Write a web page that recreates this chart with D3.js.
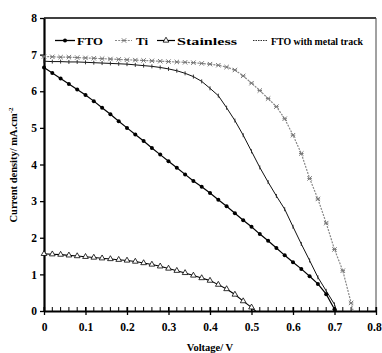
<!DOCTYPE html>
<html><head><meta charset="utf-8">
<script src="https://cdn.jsdelivr.net/npm/d3@7"></script>
<style>html,body{margin:0;padding:0;background:#fff;}svg{display:block;}</style>
</head><body>
<svg id="chart" width="382" height="353"></svg>
<script>
const xTicks = [0,0.1,0.2,0.3,0.4,0.5,0.6,0.7,0.8];
const xTickLabels = ["0","0.1","0.2","0.3","0.4","0.5","0.6","0.7","0.8"];
const yTicks = [0,1,2,3,4,5,6,7,8];
const seriesNames = ["FTO","Ti","Stainless","FTO with metal track"];

const vFTO = [0,0.02,0.04,0.06,0.08,0.10,0.12,0.14,0.16,0.18,0.20,0.22,0.24,0.26,0.28,0.30,0.32,0.34,0.36,0.38,0.40,0.42,0.44,0.46,0.48,0.50,0.52,0.54,0.56,0.58,0.60,0.62,0.64,0.66,0.68,0.70];
const jFTO = [6.65,6.50,6.35,6.20,6.05,5.90,5.73,5.55,5.37,5.18,5.00,4.82,4.64,4.45,4.27,4.09,3.91,3.73,3.55,3.39,3.22,3.04,2.86,2.67,2.48,2.30,2.10,1.92,1.72,1.52,1.33,1.15,0.95,0.74,0.46,0.05];

const vTi = [0,0.02,0.04,0.06,0.08,0.10,0.12,0.14,0.16,0.18,0.20,0.22,0.24,0.26,0.28,0.30,0.32,0.34,0.36,0.38,0.40,0.42,0.44,0.46,0.48,0.50,0.52,0.54,0.56,0.58,0.60,0.62,0.64,0.66,0.68,0.70,0.72,0.74,0.745];
const jTi = [6.95,6.94,6.93,6.93,6.92,6.91,6.90,6.89,6.88,6.87,6.86,6.85,6.84,6.83,6.82,6.81,6.80,6.79,6.78,6.76,6.74,6.71,6.66,6.58,6.42,6.22,6.02,5.80,5.58,5.25,4.80,4.30,3.62,3.06,2.40,1.68,1.10,0.22,0.00];

const vStainless = [0,0.02,0.04,0.06,0.08,0.10,0.12,0.14,0.16,0.18,0.20,0.22,0.24,0.26,0.28,0.30,0.32,0.34,0.36,0.38,0.40,0.42,0.44,0.46,0.48,0.50,0.51];
const jStainless = [1.56,1.55,1.54,1.52,1.50,1.48,1.46,1.44,1.42,1.40,1.38,1.35,1.31,1.27,1.22,1.16,1.10,1.04,0.97,0.90,0.83,0.72,0.60,0.45,0.27,0.10,0.00];

const vMetal = [0,0.02,0.04,0.06,0.08,0.10,0.12,0.14,0.16,0.18,0.20,0.22,0.24,0.26,0.28,0.30,0.32,0.34,0.36,0.38,0.40,0.42,0.44,0.46,0.48,0.50,0.52,0.54,0.56,0.58,0.60,0.62,0.64,0.66,0.68,0.70,0.705];
const jMetal = [6.82,6.81,6.81,6.80,6.80,6.79,6.78,6.77,6.76,6.75,6.74,6.72,6.70,6.68,6.65,6.61,6.56,6.49,6.40,6.27,6.08,5.88,5.55,5.20,4.80,4.36,3.92,3.52,3.14,2.78,2.30,1.83,1.38,0.92,0.55,0.18,0.00];

const svg = d3.select("#chart");
const FONT = "'Liberation Serif','Times New Roman',serif";
const x = d3.scaleLinear().domain([0,0.8]).range([44,376]);
const y = d3.scaleLinear().domain([0,8]).range([311,18]);

// frame top/right
svg.append("line").attr("x1",x(0)).attr("x2",x(0.8)).attr("y1",y(8)).attr("y2",y(8)).attr("stroke","#000").attr("stroke-width",1.5);
svg.append("line").attr("x1",x(0.8)).attr("x2",x(0.8)).attr("y1",y(8)).attr("y2",y(0)).attr("stroke","#444").attr("stroke-width",1);

// minor x ticks (inside)
const minor = d3.range(0,0.8001,0.02);
svg.append("g").selectAll("line").data(minor).join("line")
  .attr("x1",d=>x(d)).attr("x2",d=>x(d)).attr("y1",y(0)).attr("y2",y(0)-4)
  .attr("stroke","#000").attr("stroke-width",1);

// axes
const xAxis = d3.axisBottom(x).tickValues(xTicks).tickFormat((d,i)=>xTickLabels[i]).tickSize(4).tickSizeOuter(0).tickPadding(8);
const gx = svg.append("g").attr("transform",`translate(0,${y(0)})`).call(xAxis);
gx.select(".domain").attr("stroke-width",2);
gx.selectAll(".tick line").attr("y1",-4).attr("stroke-width",1.3);
gx.selectAll("text").attr("font-family",FONT).attr("font-weight","bold").attr("font-size",11.5).attr("fill","#000")
  .attr("dx",(d,i)=> i===xTicks.length-1 ? -2 : 0);

const yAxis = d3.axisLeft(y).tickValues(yTicks).tickFormat(d3.format("d")).tickSize(4).tickSizeOuter(0).tickPadding(3);
const gy = svg.append("g").attr("transform",`translate(${x(0)},0)`).call(yAxis);
gy.select(".domain").attr("stroke-width",2.2);
gy.selectAll(".tick line").attr("stroke-width",1.3);
gy.selectAll("text").attr("font-family",FONT).attr("font-weight","bold").attr("font-size",11.5).attr("fill","#000");

// axis titles
svg.append("text").attr("x",210).attr("y",351).attr("text-anchor","middle")
  .attr("font-family",FONT).attr("font-weight","bold").attr("font-size",10.5).text("Voltage/ V");
const yt = svg.append("text").attr("transform","translate(17,165) rotate(-90)").attr("text-anchor","middle")
  .attr("font-family",FONT).attr("font-weight","bold").attr("font-size",10.5);
yt.append("tspan").text("Current density/ mA.cm");
yt.append("tspan").attr("dy",-4).attr("font-size",7).text("-2");

const line = d3.line().x(d=>x(d[0])).y(d=>y(d[1]));
const zip = (a,b)=>a.map((v,i)=>[v,b[i]]);

const dFTO = zip(vFTO,jFTO), dTi = zip(vTi,jTi), dSt = zip(vStainless,jStainless), dMe = zip(vMetal,jMetal);

// Ti: grey dotted with asterisk markers
svg.append("path").attr("d",line(dTi)).attr("fill","none").attr("stroke","#888").attr("stroke-width",1.2).attr("stroke-dasharray","2,1.2");
function star(g,cx,cy,s,col){
  g.append("path").attr("d",`M${cx-s},${cy-s}L${cx+s},${cy+s}M${cx-s},${cy+s}L${cx+s},${cy-s}M${cx-s},${cy}L${cx+s},${cy}`)
   .attr("stroke",col).attr("stroke-width",1).attr("fill","none");
}
const gTi = svg.append("g");
dTi.slice(0,-1).forEach(d=>star(gTi,x(d[0]),y(d[1]),2.2,"#777"));

// Metal track: thin black with small tick markers
svg.append("path").attr("d",line(dMe)).attr("fill","none").attr("stroke","#111").attr("stroke-width",1);
svg.append("g").selectAll("path").data(dMe.slice(0,-1)).join("path")
  .attr("d",d=>`M${x(d[0])},${y(d[1])-2}L${x(d[0])},${y(d[1])+2}`)
  .attr("stroke","#222").attr("stroke-width",0.9);

// FTO: black with filled dots
svg.append("path").attr("d",line(dFTO)).attr("fill","none").attr("stroke","#000").attr("stroke-width",1.2);
svg.append("g").selectAll("circle").data(dFTO).join("circle")
  .attr("cx",d=>x(d[0])).attr("cy",d=>y(d[1])).attr("r",2).attr("fill","#000");

// Stainless: black with open triangles
svg.append("path").attr("d",line(dSt)).attr("fill","none").attr("stroke","#000").attr("stroke-width",1.1);
const tri = d3.symbol().type(d3.symbolTriangle).size(14);
svg.append("g").selectAll("path").data(dSt.slice(0,-1)).join("path")
  .attr("transform",d=>`translate(${x(d[0])},${y(d[1])})`).attr("d",tri())
  .attr("fill","#fff").attr("stroke","#000").attr("stroke-width",0.8);

// legend
const ly = 40.5, lty = 44.5;
const lg = svg.append("g").attr("font-family",FONT).attr("font-weight","bold").attr("font-size",11);
// FTO
lg.append("line").attr("x1",55).attr("x2",75).attr("y1",ly).attr("y2",ly).attr("stroke","#000").attr("stroke-width",1.3);
lg.append("circle").attr("cx",65).attr("cy",ly).attr("r",2).attr("fill","#000");
lg.append("text").attr("x",77).attr("y",lty).attr("textLength",26).attr("lengthAdjust","spacingAndGlyphs").text(seriesNames[0]);
// Ti
lg.append("line").attr("x1",115).attr("x2",132).attr("y1",ly).attr("y2",ly).attr("stroke","#888").attr("stroke-width",1.1).attr("stroke-dasharray","2,1.2");
star(lg,124,ly,2.2,"#777");
lg.append("text").attr("x",136).attr("y",lty).attr("textLength",12).attr("lengthAdjust","spacingAndGlyphs").text(seriesNames[1]);
// Stainless
lg.append("line").attr("x1",157).attr("x2",175).attr("y1",ly).attr("y2",ly).attr("stroke","#000").attr("stroke-width",1.2);
lg.append("path").attr("transform",`translate(166,${ly})`).attr("d",tri()).attr("fill","#fff").attr("stroke","#000").attr("stroke-width",0.8);
lg.append("text").attr("x",177).attr("y",lty).attr("textLength",60).attr("lengthAdjust","spacingAndGlyphs").text(seriesNames[2]);
// Metal track
lg.append("line").attr("x1",253).attr("x2",268).attr("y1",ly).attr("y2",ly).attr("stroke","#333").attr("stroke-width",1).attr("stroke-dasharray","1.5,1");
lg.append("text").attr("x",271).attr("y",lty).attr("textLength",92).attr("lengthAdjust","spacingAndGlyphs").text(seriesNames[3]);
</script>
</body></html>
